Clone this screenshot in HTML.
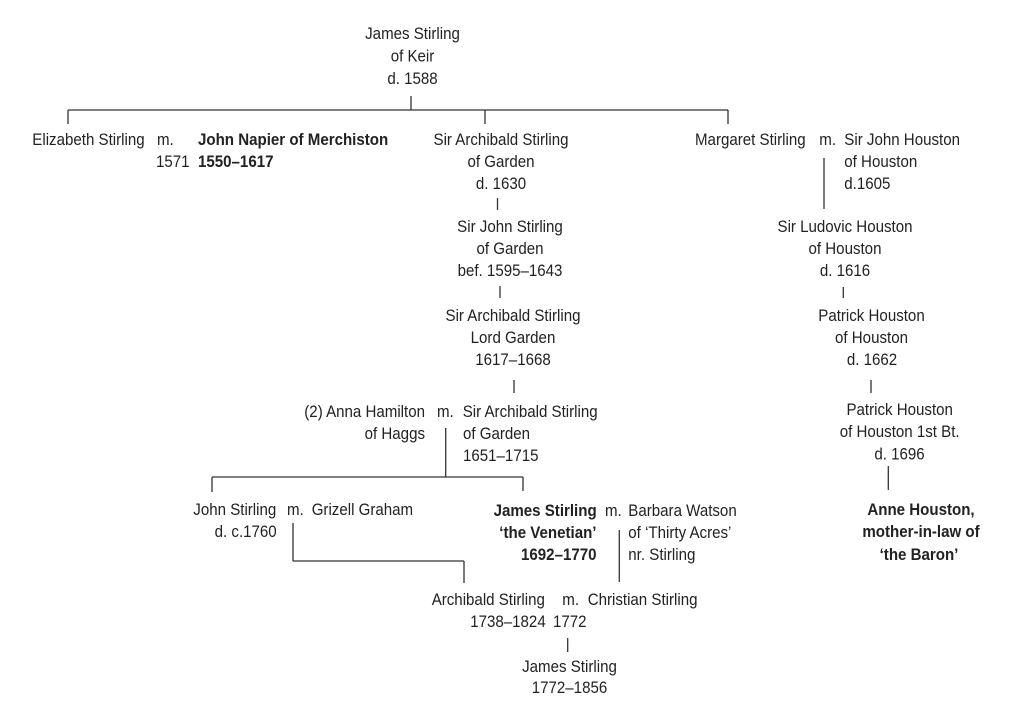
<!DOCTYPE html>
<html>
<head>
<meta charset="utf-8">
<style>
  html,body{margin:0;padding:0;background:#fff;}
  svg{display:block;}
  text{font-family:"Liberation Sans",Arial,sans-serif;font-size:16.5px;fill:#222;
       transform-box:fill-box;transform:scaleX(0.915);}
  .m{text-anchor:middle;transform-origin:center;}
  .s{text-anchor:start;transform-origin:left;}
  .e{text-anchor:end;transform-origin:right;}
  .b{font-weight:bold;}
  line{stroke:#333;stroke-width:1.3;}
</style>
</head>
<body>
<svg width="1024" height="715" viewBox="0 0 1024 715" xmlns="http://www.w3.org/2000/svg">
  <!-- connectors -->
  <line x1="411" y1="96" x2="411" y2="110"/>
  <line x1="68" y1="110" x2="728" y2="110"/>
  <line x1="68" y1="110" x2="68" y2="124"/>
  <line x1="485" y1="110" x2="485" y2="124"/>
  <line x1="728" y1="110" x2="728" y2="124"/>
  <line x1="497.5" y1="198" x2="497.5" y2="210"/>
  <line x1="500" y1="286" x2="500" y2="298"/>
  <line x1="514" y1="380" x2="514" y2="393"/>
  <line x1="445.7" y1="428" x2="445.7" y2="477"/>
  <line x1="212" y1="477" x2="523" y2="477"/>
  <line x1="212" y1="477" x2="212" y2="492"/>
  <line x1="523" y1="477" x2="523" y2="491"/>
  <line x1="293" y1="523" x2="293" y2="561"/>
  <line x1="293" y1="561" x2="464" y2="561"/>
  <line x1="464" y1="561" x2="464" y2="583"/>
  <line x1="619.3" y1="530" x2="619.3" y2="582"/>
  <line x1="567.7" y1="638" x2="567.7" y2="652"/>
  <line x1="824" y1="158" x2="824" y2="209"/>
  <line x1="843.3" y1="287" x2="843.3" y2="298"/>
  <line x1="871" y1="380" x2="871" y2="393"/>
  <line x1="888.3" y1="466" x2="888.3" y2="490"/>

  <!-- top -->
  <text class="m" x="412.5" y="39">James Stirling</text>
  <text class="m" x="412.5" y="61.5">of Keir</text>
  <text class="m" x="412.5" y="84">d. 1588</text>

  <!-- row 2 left -->
  <text class="s" x="32.3" y="145">Elizabeth Stirling</text>
  <text class="s" x="157" y="145">m.</text>
  <text class="s" x="156" y="167">1571</text>
  <text class="s b" x="198" y="145">John Napier of Merchiston</text>
  <text class="s b" x="198" y="167">1550–1617</text>

  <!-- Archibald of Garden -->
  <text class="m" x="501" y="145">Sir Archibald Stirling</text>
  <text class="m" x="501" y="167">of Garden</text>
  <text class="m" x="501" y="189">d. 1630</text>

  <text class="m" x="510" y="232">Sir John Stirling</text>
  <text class="m" x="510" y="254">of Garden</text>
  <text class="m" x="510" y="276">bef. 1595–1643</text>

  <text class="m" x="513" y="321">Sir Archibald Stirling</text>
  <text class="m" x="513" y="343">Lord Garden</text>
  <text class="m" x="513" y="365">1617–1668</text>

  <text class="e" x="425" y="417">(2) Anna Hamilton</text>
  <text class="e" x="425" y="439">of Haggs</text>
  <text class="s" x="437" y="417">m.</text>
  <text class="s" x="462.7" y="417">Sir Archibald Stirling</text>
  <text class="s" x="463" y="439">of Garden</text>
  <text class="s" x="463" y="461">1651–1715</text>

  <!-- generation row -->
  <text class="s" x="193.3" y="515">John Stirling</text>
  <text class="e" x="276.7" y="537">d. c.1760</text>
  <text class="s" x="287" y="515">m.</text>
  <text class="s" x="311.7" y="515">Grizell Graham</text>

  <text class="e b" x="596.7" y="516">James Stirling</text>
  <text class="e b" x="596.5" y="538">‘the Venetian’</text>
  <text class="e b" x="596.5" y="560">1692–1770</text>
  <text class="s" x="605" y="516">m.</text>
  <text class="s" x="628.3" y="516">Barbara Watson</text>
  <text class="s" x="628.3" y="538">of ‘Thirty Acres’</text>
  <text class="s" x="628.3" y="560">nr. Stirling</text>

  <text class="s" x="431.7" y="605">Archibald Stirling</text>
  <text class="e" x="545.7" y="627">1738–1824</text>
  <text class="s" x="562.3" y="605">m.</text>
  <text class="s" x="553" y="627">1772</text>
  <text class="s" x="587.7" y="605">Christian Stirling</text>

  <text class="m" x="569.5" y="672">James Stirling</text>
  <text class="m" x="569.5" y="693">1772–1856</text>

  <!-- right branch -->
  <text class="s" x="695" y="145">Margaret Stirling</text>
  <text class="s" x="819.3" y="145">m.</text>
  <text class="s" x="844.3" y="145">Sir John Houston</text>
  <text class="s" x="844.3" y="167">of Houston</text>
  <text class="s" x="844.3" y="189">d.1605</text>

  <text class="m" x="845" y="232">Sir Ludovic Houston</text>
  <text class="m" x="845" y="254">of Houston</text>
  <text class="m" x="845" y="276">d. 1616</text>

  <text class="m" x="871.5" y="321">Patrick Houston</text>
  <text class="m" x="871.5" y="343">of Houston</text>
  <text class="m" x="872" y="365">d. 1662</text>

  <text class="m" x="899.7" y="415">Patrick Houston</text>
  <text class="m" x="899.7" y="437">of Houston 1st Bt.</text>
  <text class="m" x="899.5" y="459.5">d. 1696</text>

  <text class="m b" x="921" y="515">Anne Houston,</text>
  <text class="m b" x="921" y="537">mother-in-law of</text>
  <text class="m b" x="919" y="560">‘the Baron’</text>
</svg>
</body>
</html>
